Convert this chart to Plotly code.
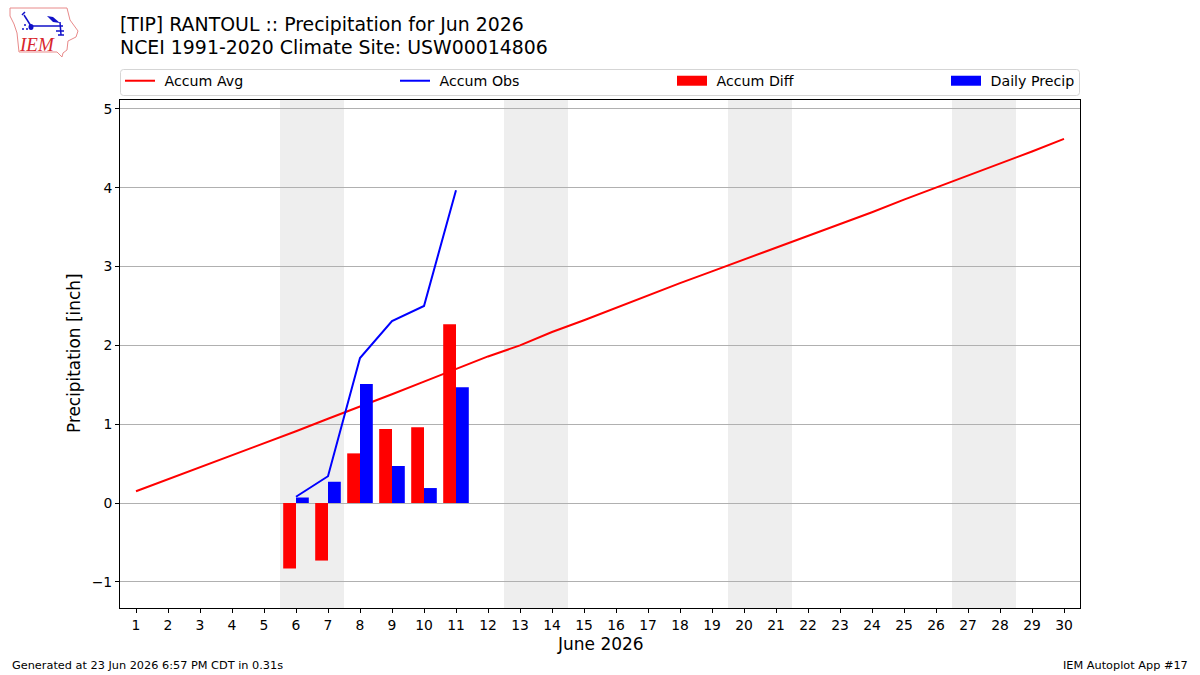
import plotly.graph_objects as go

W, H = 1200, 675
PLOT_L, PLOT_R, PLOT_T, PLOT_B = 120, 1080, 100, 608

days = list(range(1, 31))
day_labels = [str(d) for d in days]
accum_avg = [0.15, 0.30, 0.45, 0.60, 0.75, 0.91, 1.07, 1.22, 1.38, 1.54,
             1.70, 1.86, 2.00, 2.17, 2.32, 2.48, 2.64, 2.79, 2.94, 3.09,
             3.24, 3.39, 3.54, 3.69, 3.85, 4.00, 4.16, 4.30, 4.46, 4.62]
obs_days = [6, 7, 8, 9, 10, 11]
accum_obs = [0.08, 0.34, 1.84, 2.31, 2.50, 3.97]
accum_diff = [-0.83, -0.73, 0.63, 0.94, 0.96, 2.27]
daily_precip = [0.07, 0.27, 1.51, 0.47, 0.19, 1.47]
weekends = [(5.5, 7.5), (12.5, 14.5), (19.5, 21.5), (26.5, 28.5)]
y_ticks = [-1, 0, 1, 2, 3, 4, 5]
y_range = [-1.332, 5.114]

RED = "#ff0000"
BLUE = "#0000ff"
FONT = "DejaVu Sans"
LOGO_BLUE = "#1010c8"


def px(x):
    """Page pixel column to paper fraction."""
    return (x - PLOT_L) / (PLOT_R - PLOT_L)


def py(y):
    """Page pixel row to paper fraction."""
    return (PLOT_B - y) / (PLOT_B - PLOT_T)


def pixel_path(points, close=True):
    d = "M" + " L".join(f"{px(x):.5f},{py(y):.5f}" for x, y in points)
    return d + (" Z" if close else "")


def rounded_box(x0, y0, x1, y1, r):
    return (
        f"M{px(x0 + r):.5f},{py(y0):.5f} L{px(x1 - r):.5f},{py(y0):.5f} "
        f"Q{px(x1):.5f},{py(y0):.5f} {px(x1):.5f},{py(y0 + r):.5f} "
        f"L{px(x1):.5f},{py(y1 - r):.5f} "
        f"Q{px(x1):.5f},{py(y1):.5f} {px(x1 - r):.5f},{py(y1):.5f} "
        f"L{px(x0 + r):.5f},{py(y1):.5f} "
        f"Q{px(x0):.5f},{py(y1):.5f} {px(x0):.5f},{py(y1 - r):.5f} "
        f"L{px(x0):.5f},{py(y0 + r):.5f} "
        f"Q{px(x0):.5f},{py(y0):.5f} {px(x0 + r):.5f},{py(y0):.5f} Z"
    )


fig = go.Figure()

# Line traces share the main axis so the bars can sit on top of them.
fig.add_trace(go.Scatter(x=days, y=accum_avg, mode="lines", name="\u00a0Accum Avg",
                         line=dict(color=RED, width=2), legend="legend"))
fig.add_trace(go.Scatter(x=obs_days, y=accum_obs, mode="lines", name="\u00a0Accum Obs",
                         line=dict(color=BLUE, width=2), legend="legend2"))
fig.add_trace(go.Bar(x=obs_days, y=accum_diff, name="Accum Diff", width=0.4,
                     offset=-0.4, marker=dict(color=RED, line=dict(width=0)),
                     yaxis="y2", showlegend=False))
fig.add_trace(go.Bar(x=obs_days, y=daily_precip, name="Daily Precip", width=0.4,
                     offset=0, marker=dict(color=BLUE, line=dict(width=0)),
                     yaxis="y2", showlegend=False))
# Wide legend keys for the two bar series.
fig.add_trace(go.Scatter(x=[None], y=[None], mode="lines", name="\u00a0Accum Diff",
                         line=dict(color=RED, width=10), legend="legend3"))
fig.add_trace(go.Scatter(x=[None], y=[None], mode="lines", name="\u00a0Daily Precip",
                         line=dict(color=BLUE, width=10), legend="legend4"))

shapes = [
    dict(type="rect", xref="x", yref="paper", x0=a, x1=b, y0=0, y1=1,
         fillcolor="#eeeeee", line=dict(width=0), layer="below")
    for a, b in weekends
]

# Frame that holds the four legend entries.
shapes.append(dict(type="path", xref="paper", yref="paper",
                   path=rounded_box(120.5, 69.5, 1079.5, 95.5, 3),
                   line=dict(color="#d5d5d5", width=1), fillcolor="white"))

# Site logo: state outline and station glyph.
state = [(10, 8), (67, 8), (70, 20), (78, 31), (76, 37), (68, 41), (67, 50), (63, 53),
         (62, 57), (57, 52), (19, 52), (17, 33), (14, 24), (10, 16)]
shapes.append(dict(type="path", xref="paper", yref="paper", path=pixel_path(state),
                   line=dict(color="#e88a8a", width=1), fillcolor="#ffffff"))
glyph_lines = [
    [(31, 26), (63, 26)],
    [(31, 26), (24, 15)],
    [(22, 15), (25, 12)],
    [(60, 22), (61, 35)],
    [(56, 31), (64, 31)],
    [(58, 35), (64, 35)],
]
for seg in glyph_lines:
    shapes.append(dict(type="path", xref="paper", yref="paper",
                       path=pixel_path(seg, close=False),
                       line=dict(color=LOGO_BLUE, width=1.5)))
wing = [(47, 16), (53, 17), (60, 23), (53, 22)]
shapes.append(dict(type="path", xref="paper", yref="paper", path=pixel_path(wing),
                   fillcolor=LOGO_BLUE, line=dict(width=0)))
shapes.append(dict(type="circle", xref="paper", yref="paper",
                   x0=px(28.5), x1=px(33.5), y0=py(30), y1=py(24),
                   fillcolor=LOGO_BLUE, line=dict(width=0)))
for cx, cy in [(25, 25), (23, 29), (27, 29)]:
    shapes.append(dict(type="circle", xref="paper", yref="paper",
                       x0=px(cx - 1), x1=px(cx + 1), y0=py(cy + 1), y1=py(cy - 1),
                       fillcolor=LOGO_BLUE, line=dict(width=0)))

annotations = [
    dict(text="[TIP] RANTOUL :: Precipitation for Jun 2026", x=px(118), y=py(24),
         xanchor="left", yanchor="middle", font=dict(size=18.9, color="black")),
    dict(text="NCEI 1991-2020 Climate Site: USW00014806", x=px(118), y=py(47),
         xanchor="left", yanchor="middle", font=dict(size=18.9, color="black")),
    dict(text="Generated at 23 Jun 2026 6:57 PM CDT in 0.31s", x=px(10), y=py(665),
         xanchor="left", yanchor="middle", font=dict(size=11.3, color="black")),
    dict(text="IEM Autoplot App #17", x=px(1190), y=py(665),
         xanchor="right", yanchor="middle", font=dict(size=11.3, color="black")),
    dict(text="<i>IEM</i>", x=px(37), y=py(45), xanchor="center", yanchor="middle",
         font=dict(size=19, color="#d8262c", family="Liberation Serif")),
    dict(text="June 2026", x=px(600), y=py(644), xanchor="center", yanchor="middle",
         font=dict(size=17, color="black")),
    dict(text="Precipitation [inch]", x=px(74), y=py(353), xanchor="center",
         yanchor="middle", textangle=-90, font=dict(size=16.9, color="black")),
]
for a in annotations:
    a.update(xref="paper", yref="paper", showarrow=False)


def legend_entry(left):
    return dict(orientation="h", x=px(left), xanchor="left", y=py(65), yanchor="top",
                bgcolor="rgba(0,0,0,0)", borderwidth=0, itemwidth=30,
                font=dict(size=14.2), itemclick=False, itemdoubleclick=False)


fig.update_layout(
    width=W, height=H, autosize=False,
    margin=dict(l=PLOT_L, r=W - PLOT_R, t=PLOT_T, b=H - PLOT_B, autoexpand=False),
    paper_bgcolor="white", plot_bgcolor="white",
    font=dict(family=FONT, size=13.9, color="black"),
    barmode="overlay",
    shapes=shapes,
    annotations=annotations,
    xaxis=dict(range=[0.5, 30.5],
               tickmode="array", tickvals=days, ticktext=day_labels, tickangle=0,
               ticks="outside", ticklen=4, tickwidth=1, tickcolor="black",
               showline=True, linecolor="black", linewidth=1, mirror=True,
               showgrid=False, zeroline=False),
    yaxis=dict(range=y_range,
               tickmode="array", tickvals=y_ticks,
               ticks="outside", ticklen=4, tickwidth=1, tickcolor="black",
               showline=True, linecolor="black", linewidth=1, mirror=True,
               showgrid=True, gridcolor="#b0b0b0", gridwidth=1, zeroline=False),
    yaxis2=dict(range=y_range, overlaying="y", visible=False),
    legend=legend_entry(120),
    legend2=legend_entry(395),
    legend3=legend_entry(672),
    legend4=legend_entry(946),
    showlegend=True,
)

fig.write_html("out.html")
